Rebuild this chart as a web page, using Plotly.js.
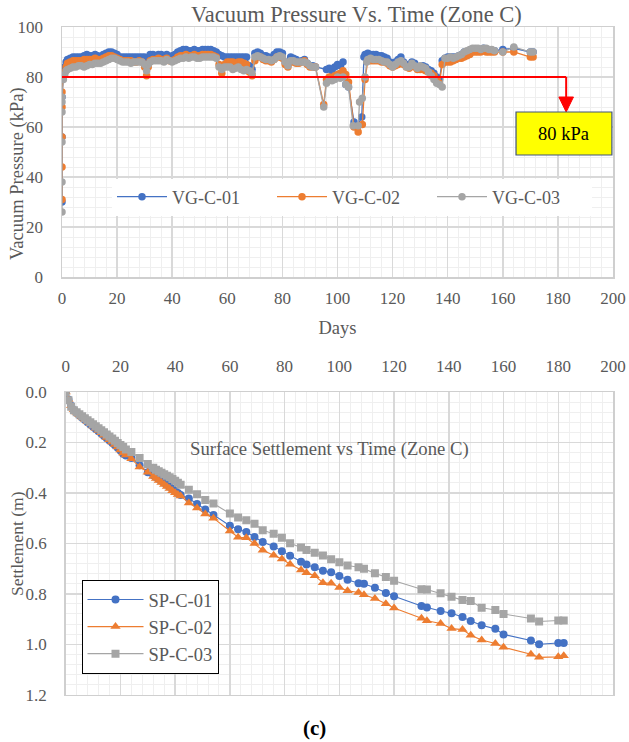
<!DOCTYPE html>
<html><head><meta charset="utf-8">
<script src="https://cdn.plot.ly/plotly-3.0.1.min.js"></script>
<style>html,body{margin:0;padding:0;background:#fff}#chart{width:629px;height:742px}</style>
</head><body><div id="chart"></div>
<script>
// ---------- Vacuum pressure data [day, kPa] ----------
const vgC01 = [[0,30],[0,56],[0,72],[0.5,82],[1,84],[1.5,86],[2,87],[3,87.5],[4,88],[5,88],[6,88],[7,88],[8,88.5],[9,89],[10,88.5],[11,88.5],[12,89],[13,88.5],[14,88],[15,89],[16,89.5],[17,90],[18,90],[19,89.5],[20,89],[21,88],[22,88],[23,88],[24,88],[25,88],[26,88],[27,88],[28,88],[29,88],[30,88],[31,87.5],[32,89],[33,89],[34,88.5],[35,89],[36,89],[37,88.5],[38,89],[39,88],[40,88.5],[41,89],[42,90],[43,90.5],[44,91],[45,91],[46,90.5],[47,90.5],[48,91],[49,90.5],[50,90.5],[51,91],[52,91],[53,91],[54,91],[55,90.5],[56,90],[57,89],[58,88.5],[59,88],[60,88],[61,88],[62,88],[63,88],[64,88],[65,88],[66,88],[67,88],[68,84.5],[69,83],[70,89.5],[71,90],[72,89.5],[73,88.5],[74,88.5],[75,88],[76,87.5],[77,89],[78,90],[79,90],[80,89.5],[81,86],[82,85],[83,88],[84,87.5],[85,87],[86,86],[87,86.5],[88,87],[89,85.5],[90,84.5],[91,84.5],[92,84],[96,83],[97,83.5],[98,82.5],[99,84],[100,85],[101,84.5],[102,86],[103,77],[104,76],[106,62],[107,60],[108.8,64],[109.6,88],[110,89],[111,89.5],[112,89],[113,89],[114,89],[115,88.5],[116,88.5],[117,88],[118,87.5],[119,86],[120,85.5],[121,86],[122,87],[123,88],[124,86],[125,85],[126,84.5],[127,86],[128,85.5],[129,84],[130,84],[131,84.5],[132,84],[133,83],[134,82.5],[135,81.5],[136,80],[137,79],[138,86.5],[139,87.5],[140,88],[141,88],[142,88],[143,88],[144,88.5],[145,89],[146,90],[147,90],[148,90.5],[149,91],[150,91],[151,91],[152,91],[153,91.5],[154,91],[155,90.5],[156,90.5],[157,90.5],[160,91],[164,91.5],[170,90],[171,90]];
const vgC02 = [[0,31],[0,44],[0,56],[0,68],[0,74],[0.5,80],[1,82],[1.5,84],[2,85.5],[3,86],[4,86.5],[5,86.5],[6,86.5],[7,86.5],[8,87],[9,87],[10,87],[11,87],[12,87.5],[13,87],[14,87],[15,87.5],[16,88],[17,88.5],[18,88.5],[19,88],[20,87.5],[21,87],[22,86.5],[23,86.5],[24,86.5],[25,86.5],[26,86],[27,86],[28,86.5],[29,86],[30,84],[30.7,80.5],[31.3,84],[32,86.5],[33,87],[34,87],[35,87.5],[36,87],[37,87],[38,87.5],[39,86.5],[40,86.5],[41,87],[42,88],[43,88.5],[44,88.5],[45,89],[46,88.5],[47,88.5],[48,89],[49,88.5],[50,88.5],[51,89],[52,89],[53,89],[54,89],[55,88.5],[56,88],[57,85],[58,81.5],[59,85],[60,86],[61,86],[62,86],[63,85.5],[64,86],[65,86],[66,85.5],[67,85],[68,82],[69,80.5],[70,86.5],[71,88],[72,88],[73,87],[74,86.5],[75,86.5],[76,86],[77,87],[78,88],[79,88],[80,87.5],[81,85],[82,84],[83,86],[84,86],[85,85.5],[86,85.5],[87,86],[88,86.5],[89,85],[90,84],[91,84],[92,84],[95,69],[96,79],[97,80],[98,79.5],[99,80.5],[100,81],[101,81.5],[102,82.5],[103,81],[104,78],[106,60],[107.5,58],[109,61],[110,79],[111,86.5],[112,86.5],[113,86.5],[114,86.5],[115,86.5],[116,86],[117,86],[118,85.5],[119,84.5],[120,84],[121,84.5],[122,85],[123,86],[124,85],[125,84],[126,83.5],[127,84.5],[128,84],[129,83],[130,83],[131,83],[132,82.5],[133,82],[134,81.5],[135,80.5],[136,79],[137,77.5],[138,85],[139,86],[140,86],[141,86],[142,86.5],[143,87],[144,87.5],[145,87.5],[146,88],[147,88.5],[148,89],[149,90],[150,90],[151,90],[152,90],[153,90.5],[154,90],[155,90],[156,90],[157,90],[160,90],[164,90],[170,88],[171,88]];
const vgC03 = [[0,26],[0,38],[0,54],[0,66],[0,70],[0,72],[0.5,79],[1,81],[1.5,82.5],[2,83],[3,83.5],[4,84],[5,84],[6,84.5],[7,84.5],[8,84],[9,84.5],[10,85],[11,85],[12,85.5],[13,85.5],[14,85.5],[15,86],[16,86.5],[17,87],[18,87.5],[19,87.5],[20,87],[21,86.5],[22,86],[23,86],[24,86],[25,85.5],[26,86],[27,86],[28,86],[29,86],[30,85],[30.7,82.5],[31.3,85],[32,86],[33,86.5],[34,86.5],[35,86.5],[36,86.5],[37,86],[38,87],[39,86.5],[40,86],[41,86.5],[42,87],[43,87.5],[44,87.5],[45,88],[46,87.5],[47,88],[48,88],[49,87.5],[50,87.5],[51,88],[52,88],[53,88],[54,88],[55,88],[56,87.5],[57,84],[58,83],[59,84],[60,84],[61,84],[62,83],[63,83.5],[64,84],[65,83],[66,82.5],[67,83],[68,82.5],[69,81.5],[70,88],[71,88.5],[72,88],[73,87.5],[74,87],[75,87],[76,86.5],[77,87],[78,88],[79,88.5],[80,88],[81,86],[82,84.5],[83,86.5],[84,86.5],[85,86],[86,86],[87,86],[88,86],[89,85.5],[90,84.5],[91,84],[92,84],[95,68],[96,77.5],[97,79],[98,78.5],[99,79],[100,80],[101,79.5],[102,80],[103,77],[104,76],[105.7,60.5],[107.5,60.5],[108,70],[109,71.5],[110,80],[110.6,86],[111,87],[112,87.5],[113,87],[114,87],[115,87],[116,86.5],[117,86],[118,86],[119,85],[120,84],[121,85],[122,86],[123,86.5],[124,85.5],[125,84],[126,84],[127,85.5],[128,84.5],[129,83.5],[130,84.5],[131,84],[132,83.5],[133,82],[134,80.5],[135,79],[136,77.5],[137,77],[138,76],[139,87.5],[140,87.5],[141,88],[142,87.5],[143,88],[144,88.5],[145,89],[146,90],[147,90.5],[148,91],[149,91.5],[150,91.5],[151,91.5],[152,91],[153,91.5],[154,91.5],[155,91],[156,91],[157,90.5],[160,90],[164,92],[170,90],[171,90]];
const vacuumThreshold = 80;
const thresholdEndDay = 183;

// ---------- Settlement data ----------
const settleDays = [0,1,2,3,4,5,6,7,8,9,10,11,12,13,14,15,16,17,18,19,20,21,22,24,27,30,32,33,34,35,36,37,38,39,40,41,42,45,48,51,54,60,63,66,69,72,76,79,82,86,88,91,94,97,100,103,107,109,113,117,120,130,132,137,141,145,148,152,157,160,170,173,180,182];
const spC01 = [0,0.030,0.055,0.072,0.082,0.092,0.101,0.110,0.120,0.129,0.138,0.147,0.156,0.165,0.174,0.183,0.192,0.201,0.211,0.221,0.232,0.245,0.252,0.262,0.290,0.318,0.330,0.337,0.345,0.352,0.360,0.368,0.376,0.384,0.392,0.400,0.408,0.422,0.444,0.466,0.488,0.530,0.544,0.555,0.575,0.595,0.612,0.631,0.649,0.673,0.684,0.695,0.709,0.715,0.729,0.744,0.758,0.760,0.776,0.797,0.810,0.848,0.854,0.868,0.877,0.892,0.908,0.925,0.939,0.961,0.985,1.000,0.995,0.995];
const spC02 = [0,0.030,0.055,0.070,0.080,0.090,0.099,0.108,0.117,0.126,0.135,0.144,0.153,0.162,0.171,0.180,0.189,0.198,0.208,0.218,0.230,0.242,0.250,0.265,0.297,0.318,0.335,0.343,0.351,0.359,0.367,0.375,0.383,0.391,0.399,0.406,0.412,0.440,0.460,0.484,0.500,0.551,0.576,0.578,0.601,0.627,0.647,0.662,0.683,0.706,0.717,0.728,0.756,0.758,0.775,0.788,0.795,0.804,0.819,0.839,0.856,0.897,0.907,0.918,0.938,0.942,0.964,0.983,0.997,1.012,1.040,1.052,1.050,1.046];
const spC03 = [0,0.033,0.058,0.072,0.080,0.088,0.096,0.104,0.112,0.120,0.128,0.136,0.144,0.152,0.160,0.168,0.176,0.184,0.193,0.202,0.210,0.218,0.228,0.238,0.262,0.285,0.300,0.308,0.314,0.320,0.326,0.332,0.338,0.345,0.352,0.360,0.368,0.388,0.405,0.428,0.442,0.482,0.498,0.508,0.522,0.548,0.562,0.578,0.600,0.616,0.626,0.637,0.648,0.663,0.675,0.688,0.695,0.701,0.719,0.733,0.748,0.782,0.783,0.798,0.812,0.825,0.829,0.855,0.864,0.880,0.898,0.910,0.906,0.906];

const BLUE='#4472C4', ORANGE='#ED7D31', GREY='#A5A5A5';
const FONT='Liberation Serif, Times New Roman, serif';
const TXT='#595959';

function vgTrace(pairs,name,color){
  return {x:pairs.map(p=>p[0]),y:pairs.map(p=>p[1]),name:name,type:'scatter',mode:'lines+markers',
    xaxis:'x',yaxis:'y',legend:'legend',
    line:{color:color,width:1.3},marker:{color:color,size:7.5,symbol:'circle'}};
}
function spTrace(vals,name,color,sym,size,grp){
  return {x:settleDays,y:vals,name:name,type:'scatter',mode:'lines+markers',
    xaxis:'x2',yaxis:'y2',legend:'legend2',legendgroup:grp,
    line:{color:color,width:1.1},marker:{color:color,size:size,symbol:sym}};
}

const traces=[
  vgTrace(vgC01,'VG-C-01',BLUE),
  vgTrace(vgC02,'VG-C-02',ORANGE),
  vgTrace(vgC03,'VG-C-03',GREY),
  spTrace(spC01,'SP-C-01',BLUE,'circle',8,'a'),
  spTrace(spC02,'SP-C-02',ORANGE,'triangle-up',9,'b'),
  spTrace(spC03,'SP-C-03',GREY,'square',8,'c')
];

const W=629,H=742;
const px=v=>v/W, py=v=>1-v/H;
const axisBase={
  showgrid:true,gridcolor:'#d9d9d9',gridwidth:1.5,
  zeroline:false,showline:true,linecolor:'#cfcfcf',linewidth:1.5,
  ticks:'',tickfont:{family:FONT,size:17,color:TXT},
};
const minorX={dtick:4,showgrid:true,gridcolor:'#efefef',gridwidth:1};

const layout={
  width:W,height:H,margin:{l:0,r:0,t:0,b:0},paper_bgcolor:'#fff',plot_bgcolor:'#fff',
  showlegend:true,
  xaxis:Object.assign({},axisBase,{domain:[px(62),px(613)],anchor:'y',range:[0,200],dtick:20,
    minor:minorX,mirror:true,ticklabelstandoff:5,
    title:{text:'Days',font:{family:FONT,size:18.5,color:TXT},standoff:14}}),
  yaxis:Object.assign({},axisBase,{domain:[py(277),py(27)],anchor:'x',range:[0,100],dtick:20,
    minor:{dtick:4,showgrid:true,gridcolor:'#efefef',gridwidth:1},mirror:true,
    ticklabelstandoff:14}),
  xaxis2:Object.assign({},axisBase,{domain:[px(65.7),px(613)],anchor:'y2',side:'top',range:[0,200],dtick:20,
    minor:minorX,mirror:true,ticklabelstandoff:12}),
  yaxis2:Object.assign({},axisBase,{domain:[py(694.7),py(392)],anchor:'x2',range:[1.2,0],dtick:0.2,tickformat:'.1f',
    minor:{dtick:0.04,showgrid:true,gridcolor:'#efefef',gridwidth:1},mirror:true,
    ticklabelstandoff:14}),
  legend:{orientation:'h',x:px(112),y:py(197),xanchor:'left',yanchor:'middle',bgcolor:'rgba(255,255,255,1)',
    font:{family:FONT,size:18,color:TXT},itemwidth:50,entrywidth:95,entrywidthmode:'pixels',traceorder:'normal'},
  legend2:{orientation:'v',x:px(81.5),y:py(580),xanchor:'left',yanchor:'top',bgcolor:'#fff',
    bordercolor:'#000',borderwidth:1,font:{family:FONT,size:18.5,color:TXT},itemwidth:56,tracegroupgap:11,traceorder:'normal'},
  shapes:[
    {type:'line',xref:'x',yref:'y',x0:0,x1:thresholdEndDay,y0:vacuumThreshold,y1:vacuumThreshold,line:{color:'#FF0000',width:2}},
    {type:'line',xref:'x',yref:'y',x0:thresholdEndDay,x1:thresholdEndDay,y0:vacuumThreshold,y1:72,line:{color:'#FF0000',width:2}},
    {type:'path',xref:'x',yref:'y',path:'M 180.35 72 L 185.65 72 L 183 66 Z',fillcolor:'#FF0000',line:{color:'#FF0000',width:1}},
    {type:'rect',xref:'x',yref:'y',x0:164.8,x1:199.6,y0:48.8,y1:66,fillcolor:'#FFFF00',line:{color:'#41557A',width:1.2}}
  ],
  annotations:[
    {xref:'x',yref:'y',x:182.2,y:57.4,text:'80 kPa',showarrow:false,font:{family:FONT,size:18.5,color:'#000'}},
    {xref:'paper',yref:'paper',x:px(356),y:py(15),text:'Vacuum Pressure Vs. Time (Zone C)',showarrow:false,
      font:{family:FONT,size:22.5,color:TXT},xanchor:'center',yanchor:'middle'},
    {xref:'paper',yref:'paper',x:px(329),y:py(449),text:'Surface Settlement vs Time (Zone C)',showarrow:false,
      font:{family:FONT,size:18.7,color:TXT},xanchor:'center',yanchor:'middle'},
    {xref:'paper',yref:'paper',x:px(18),y:py(174),text:'Vacuum Pressure (kPa)',textangle:-90,showarrow:false,
      font:{family:FONT,size:18.5,color:TXT},xanchor:'center',yanchor:'middle'},
    {xref:'paper',yref:'paper',x:px(17),y:py(544),text:'Settlement (m)',textangle:-90,showarrow:false,
      font:{family:FONT,size:17.5,color:TXT},xanchor:'center',yanchor:'middle'},
    {xref:'paper',yref:'paper',x:px(314),y:py(727.5),text:'<b>(c)</b>',showarrow:false,
      font:{family:FONT,size:21,color:'#000'},xanchor:'center',yanchor:'middle'}
  ]
};

Plotly.newPlot('chart',traces,layout,{displayModeBar:false,staticPlot:true});
</script></body></html>
